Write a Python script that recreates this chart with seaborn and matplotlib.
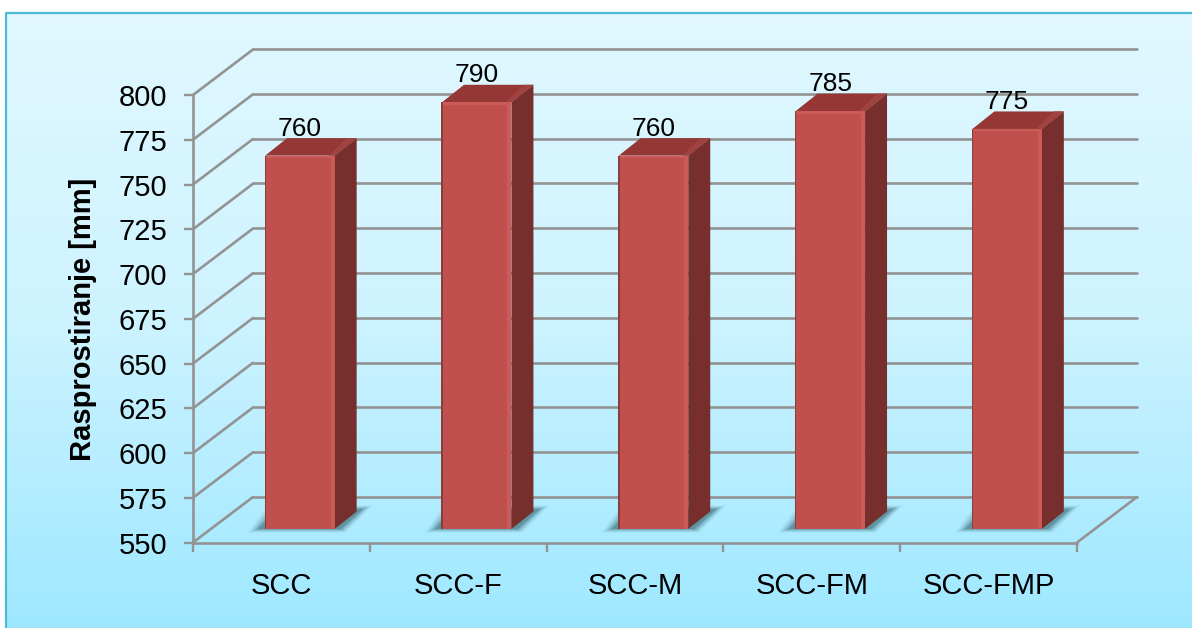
import numpy as np
import pandas as pd
import seaborn as sns
import matplotlib.pyplot as plt
from matplotlib.patches import Polygon, Rectangle
from matplotlib.colors import LinearSegmentedColormap

# Data
categories = ['SCC', 'SCC-F', 'SCC-M', 'SCC-FM', 'SCC-FMP']
spread = [760, 790, 760, 785, 775]
y_ticks = [550, 575, 600, 625, 650, 675, 700, 725, 750, 775, 800]

df = pd.DataFrame({'mix': categories, 'spread': spread})

W, H = 1192, 628
GRID = '#939393'
FRONT = '#C0504D'
SIDE = '#772F2D'
TOP = '#943735'


def box(left, top, right, bottom):
    # pixel box -> figure fraction
    return [left / W, 1 - bottom / H, (right - left) / W, (bottom - top) / H]


sns.set_theme(style='white')
plt.rcParams['font.family'] = ['Liberation Sans', 'DejaVu Sans']

fig = plt.figure(figsize=(W / 100, H / 100), dpi=100, facecolor='white')

# Background panel
bg = fig.add_axes([0, 0, 1, 1])
bg.set_xlim(0, W)
bg.set_ylim(H, 0)
bg.axis('off')
cmap = LinearSegmentedColormap.from_list('panel', ['#E1F8FF', '#CDF3FF', '#9EE8FF'])
bg.imshow(np.linspace(0, 1, 256).reshape(-1, 1), cmap=cmap, aspect='auto',
          extent=(6, W, H, 13), zorder=1)
bg.set_xlim(0, W)
bg.set_ylim(H, 0)
bg.plot([6, 6, W], [H, 13, 13], color='#4DBBD8', lw=1.6, zorder=2)

# Back wall
wall = fig.add_axes(box(253, 49, 1137, 497))
wall.patch.set_alpha(0)
wall.set_xlim(0, 5)
wall.set_ylim(550, 800)
wall.set_yticks(y_ticks)
wall.set_xticks([])
wall.tick_params(left=False, labelleft=False)
wall.grid(axis='y', color=GRID, lw=1.9)
sns.despine(ax=wall, left=True, bottom=True)
for line in wall.get_ygridlines():
    line.set_clip_on(False)

# Front plane with the axis lines and labels
ax = fig.add_axes(box(193, 95, 1077, 542.5))
ax.patch.set_alpha(0)
ax.set_xlim(0, 5)
ax.set_ylim(550, 800)
ax.set_yticks(y_ticks)
ax.set_xticks(range(6))
ax.set_xticklabels([])
ax.set_xticks(np.arange(5) + 0.5, minor=True)
ax.set_xticklabels(categories, minor=True, fontsize=21, color='black')
ax.tick_params(axis='x', which='major', length=6.5, width=1.7, color=GRID, bottom=True)
ax.tick_params(axis='x', which='minor', length=0, pad=21)
ax.tick_params(axis='y', length=6.5, width=1.7, color=GRID, labelsize=21, pad=12, left=True,
               labelcolor='black')
for side in ['top', 'right']:
    ax.spines[side].set_visible(False)
for side in ['left', 'bottom']:
    ax.spines[side].set_color(GRID)
    ax.spines[side].set_linewidth(1.9)
ax.set_ylabel('Rasprostiranje [mm]', fontsize=21, fontweight='bold', color='black')
ax.yaxis.set_label_coords((97 - 193) / 884, (542.5 - 319) / 447.5)

# Floor / wall connectors
depth_x = 60 / (884 / 5)
depth_y = 45.5 / (447.5 / 250)
for v in y_ticks:
    ax.plot([0, depth_x], [v, v + depth_y], color=GRID, lw=1.9, clip_on=False)
ax.plot([5, 5 + depth_x], [550, 550 + depth_y], color=GRID, lw=1.9, clip_on=False)

# Bars sit a little way back from the front plane
bar_ax = fig.add_axes(box(211.5, 84.5, 1095.5, 529))
bar_ax.patch.set_alpha(0)
sns.barplot(data=df, x='mix', y='spread', color=FRONT, saturation=1, width=0.393, ax=bar_ax,
            order=categories, linewidth=0, edgecolor='none')
bar_ax.set_xlim(-0.5, 4.5)
bar_ax.set_ylim(550, 800)
bar_ax.axis('off')

px_x = 884 / 5
px_y = 444.5 / 250
side_x = 22 / px_x
side_y = 17.5 / px_y

for bar, value in zip(bar_ax.patches[:len(spread)], spread):
    x0 = bar.get_x()
    x1 = x0 + bar.get_width()

    # soft floor shadow
    for grow, alpha in zip([10, 8, 6, 4, 2, 0], [0.06, 0.08, 0.11, 0.14, 0.18, 0.24]):
        gx = grow / px_x
        gy = grow * 0.35 / px_y
        bar_ax.add_patch(Polygon(
            [(x0 - 7 / px_x - gx, 550 - gy), (x1 + 6 / px_x + gx * 0.5, 550 - gy),
             (x1 + 28 / px_x + gx, 550 + 20 / px_y + gy), (x0 + 12 / px_x - gx, 550 + 20 / px_y + gy)],
            closed=True, fc='#2A5865', ec='none', alpha=alpha, zorder=0.5, clip_on=False))

    # right side
    bar_ax.add_patch(Polygon(
        [(x1, 550), (x1 + side_x, 550 + side_y), (x1 + side_x, value + side_y), (x1, value)],
        closed=True, fc=SIDE, ec='none', zorder=3, clip_on=False))
    # top face
    bar_ax.add_patch(Polygon(
        [(x0, value), (x1, value), (x1 + side_x, value + side_y), (x0 + side_x, value + side_y)],
        closed=True, fc=TOP, ec='none', zorder=3, clip_on=False))
    bar_ax.add_patch(Polygon(
        [(x1 - 6 / px_x, value), (x1, value), (x1 + side_x, value + side_y),
         (x1 + side_x - 10 / px_x, value + side_y)],
        closed=True, fc='#A04240', ec='none', zorder=3.1, clip_on=False))

    # bevels on the front face
    bar.set_zorder(4)
    bar_ax.add_patch(Rectangle((x1 - 4 / px_x, 550), 4 / px_x, value - 550, fc='#CC5A57', ec='none', zorder=5))
    bar_ax.add_patch(Rectangle((x0, value - 2.5 / px_y), x1 - x0, 2.5 / px_y, fc='#CC5A57', ec='none', zorder=5))
    bar_ax.add_patch(Rectangle((x0 - 0.6 / px_x, 550), 1.4 / px_x, value - 550, fc='#8A3D3B', ec='none', zorder=5))

    # value label
    bar_ax.text((x0 + x1) / 2, value + side_y + 2.5 / px_y, str(value), ha='center', va='baseline',
                fontsize=19, color='black', zorder=6, clip_on=False)

fig.savefig('out.png', dpi=100)
